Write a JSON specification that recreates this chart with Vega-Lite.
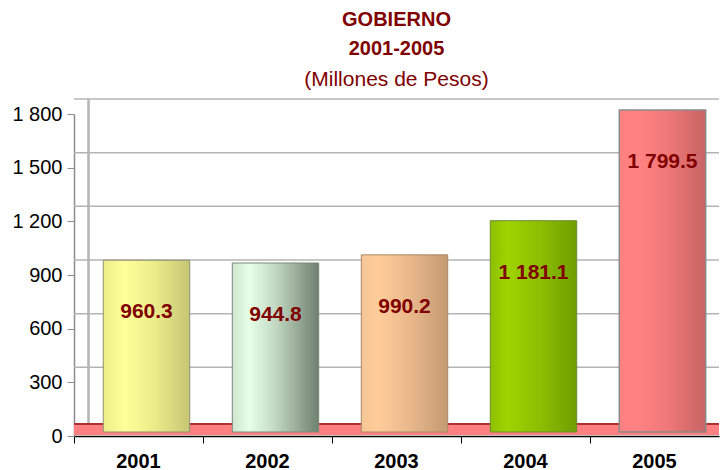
{
  "$schema": "https://vega.github.io/schema/vega-lite/v6.json",
  "width": 645,
  "height": 322,
  "autosize": "none",
  "padding": {"left": 74, "top": 114, "right": 5, "bottom": 34},
  "background": "white",
  "config": {"view": {"stroke": null}, "font": "Liberation Sans"},
  "title": {
    "text": ["GOBIERNO", "2001-2005"],
    "subtitle": "(Millones de Pesos)",
    "anchor": "middle",
    "font": "Liberation Sans",
    "fontSize": 20,
    "fontWeight": "bold",
    "color": "#800000",
    "lineHeight": 29,
    "subtitleFont": "Liberation Sans",
    "subtitleFontSize": 21,
    "subtitleColor": "#800000",
    "subtitlePadding": 10,
    "offset": 8
  },
  "datasets": {
    "gob": [
      {"anio": "2001", "valor": 960.3},
      {"anio": "2002", "valor": 944.8},
      {"anio": "2003", "valor": 990.2},
      {"anio": "2004", "valor": 1181.1},
      {"anio": "2005", "valor": 1799.5}
    ],
    "grid": [
      {"v": 300}, {"v": 600}, {"v": 900}, {"v": 1200}, {"v": 1500}, {"v": 1800}
    ]
  },
  "data": {"name": "gob"},
  "layer": [
    {
      "data": {"name": "grid"},
      "mark": {"type": "rule", "color": "#B4B4B4", "strokeWidth": 1.5, "yOffset": -15},
      "encoding": {
        "y": {
          "field": "v", "type": "quantitative", "title": null,
          "scale": {"domain": [0, 1800]},
          "axis": {
            "values": [0, 300, 600, 900, 1200, 1500, 1800],
            "labelExpr": "replace(format(datum.value, ',d'), ',', ' ')",
            "labelFont": "Liberation Sans", "labelFontSize": 20, "labelColor": "#000000",
            "domainColor": "#8C8C8C", "domainWidth": 1.5, "tickColor": "#8C8C8C", "tickSize": 7,
            "labelPadding": 5, "grid": false, "title": null
          }
        }
      }
    },
    {
      "mark": {"type": "rule", "color": "#FF8080", "strokeWidth": 10, "yOffset": -6},
      "encoding": {"y": {"datum": 0, "type": "quantitative", "title": null}}
    },
    {
      "mark": {"type": "rule", "color": "#B03030", "strokeWidth": 2, "yOffset": -12},
      "encoding": {"y": {"datum": 0, "type": "quantitative", "title": null}}
    },
    {
      "transform": [{"filter": "datum.anio == '2001'"}],
      "mark": {"type": "bar", "width": {"band": 0.67}, "xOffset": 8, "yOffset": -4, "stroke": "#909070", "strokeWidth": 1,
        "fill": {"gradient": "linear", "x1": 0, "y1": 0, "x2": 1, "y2": 0,
          "stops": [{"offset": 0, "color": "#EEEE88"}, {"offset": 0.25, "color": "#FFFF99"}, {"offset": 0.6, "color": "#EBEB8A"}, {"offset": 1, "color": "#C6C674"}]}},
      "encoding": {
        "x": {
          "field": "anio", "type": "nominal", "title": null,
          "scale": {"domain": ["2001", "2002", "2003", "2004", "2005"], "paddingInner": 0, "paddingOuter": 0},
          "axis": {
            "bandPosition": 0, "labelAngle": 0, "labelFont": "Liberation Sans",
            "labelFontSize": 20, "labelFontWeight": "bold", "labelColor": "#000000",
            "domainColor": "#000000", "domainWidth": 1.5, "tickColor": "#000000",
            "tickSize": 7, "labelPadding": 8, "grid": false
          }
        },
        "y": {"field": "valor", "type": "quantitative", "title": null}
      }
    },
    {
      "transform": [{"filter": "datum.anio == '2002'"}],
      "mark": {"type": "bar", "width": {"band": 0.67}, "xOffset": 8, "yOffset": -4, "stroke": "#7A887A", "strokeWidth": 1,
        "fill": {"gradient": "linear", "x1": 0, "y1": 0, "x2": 1, "y2": 0,
          "stops": [{"offset": 0, "color": "#CFE6CF"}, {"offset": 0.2, "color": "#E6FFE6"}, {"offset": 0.5, "color": "#C2D8C2"}, {"offset": 1, "color": "#6F806F"}]}},
      "encoding": {"x": {"field": "anio", "type": "nominal"}, "y": {"field": "valor", "type": "quantitative", "title": null}}
    },
    {
      "transform": [{"filter": "datum.anio == '2003'"}],
      "mark": {"type": "bar", "width": {"band": 0.67}, "xOffset": 8, "yOffset": -4, "stroke": "#A88868", "strokeWidth": 1,
        "fill": {"gradient": "linear", "x1": 0, "y1": 0, "x2": 1, "y2": 0,
          "stops": [{"offset": 0, "color": "#F5C696"}, {"offset": 0.2, "color": "#FFCC99"}, {"offset": 0.6, "color": "#E6B68A"}, {"offset": 1, "color": "#C49A70"}]}},
      "encoding": {"x": {"field": "anio", "type": "nominal"}, "y": {"field": "valor", "type": "quantitative", "title": null}}
    },
    {
      "transform": [{"filter": "datum.anio == '2004'"}],
      "mark": {"type": "bar", "width": {"band": 0.67}, "xOffset": 8, "yOffset": -4, "stroke": "#6E8A30", "strokeWidth": 1,
        "fill": {"gradient": "linear", "x1": 0, "y1": 0, "x2": 1, "y2": 0,
          "stops": [{"offset": 0, "color": "#8CC000"}, {"offset": 0.2, "color": "#A0D400"}, {"offset": 0.6, "color": "#8CBC00"}, {"offset": 1, "color": "#6E9E00"}]}},
      "encoding": {"x": {"field": "anio", "type": "nominal"}, "y": {"field": "valor", "type": "quantitative", "title": null}}
    },
    {
      "transform": [{"filter": "datum.anio == '2005'"}],
      "mark": {"type": "bar", "width": {"band": 0.67}, "xOffset": 8, "yOffset": -4, "stroke": "#8A8A8A", "strokeWidth": 1.5,
        "fill": {"gradient": "linear", "x1": 0, "y1": 0, "x2": 1, "y2": 0,
          "stops": [{"offset": 0, "color": "#FF8080"}, {"offset": 0.25, "color": "#FF8282"}, {"offset": 0.6, "color": "#EC7676"}, {"offset": 1, "color": "#C86464"}]}},
      "encoding": {"x": {"field": "anio", "type": "nominal"}, "y": {"field": "valor", "type": "quantitative", "title": null}}
    },
    {
      "transform": [{"calculate": "replace(format(datum.valor, ',.1f'), ',', ' ')", "as": "etiqueta"}],
      "mark": {"type": "text", "font": "Liberation Sans", "fontSize": 21, "fontWeight": "bold", "color": "#800000", "dx": 8, "dy": 48, "baseline": "middle", "align": "center"},
      "encoding": {
        "x": {"field": "anio", "type": "nominal"},
        "y": {"field": "valor", "type": "quantitative", "title": null},
        "text": {"field": "etiqueta", "type": "nominal"}
      }
    },
    {
      "mark": {"type": "rule", "color": "#B4B4B4", "strokeWidth": 1.5, "xOffset": -50, "yOffset": -13, "y2Offset": -15},
      "encoding": {
        "x": {"datum": "2001", "type": "nominal", "title": null,
          "axis": {
            "bandPosition": 0, "labelAngle": 0, "labelFont": "Liberation Sans",
            "labelFontSize": 20, "labelFontWeight": "bold", "labelColor": "#000000",
            "domainColor": "#000000", "domainWidth": 1.5, "tickColor": "#000000",
            "tickSize": 7, "labelPadding": 8, "grid": false
          }},
        "y": {"datum": 0, "type": "quantitative", "title": null},
        "y2": {"datum": 1800}
      }
    }
  ]
}
